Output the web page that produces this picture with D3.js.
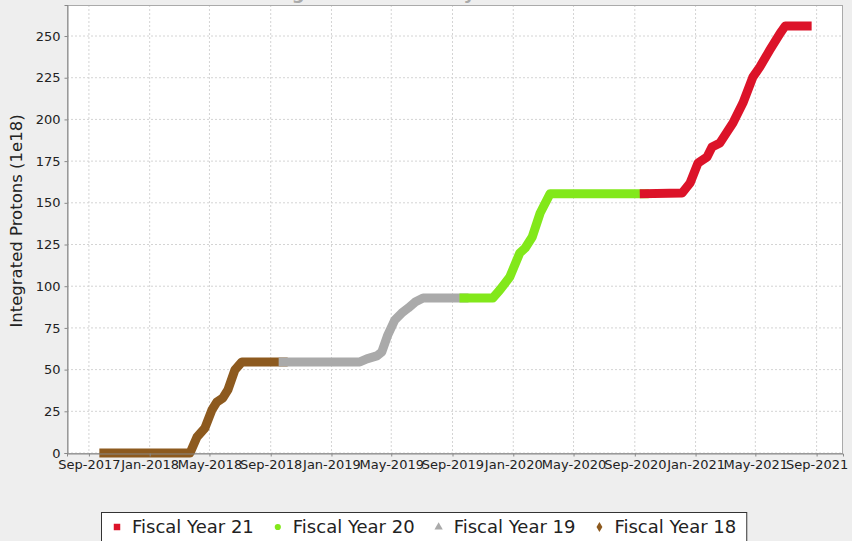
<!DOCTYPE html>
<html>
<head>
<meta charset="utf-8">
<script src="https://cdn.jsdelivr.net/npm/d3@7"></script>
<style>
  body { margin: 0; background: #eeeeee; }
  svg text { font-family: "DejaVu Sans", sans-serif; }
</style>
</head>
<body>
<svg id="chart" width="852" height="541"></svg>
<script>
// values: [date, integrated protons (1e18)]
var fy18 = [
  ['2017-10-01', 0], ['2018-03-23', 0], ['2018-04-06', 9.6], ['2018-04-22', 15],
  ['2018-05-06', 25.8], ['2018-05-16', 30.6], ['2018-05-28', 33], ['2018-06-07', 37.8],
  ['2018-06-21', 49.8], ['2018-07-05', 54.6], ['2018-09-26', 54.6]
];
var fy19 = [
  ['2018-09-26', 54.6], ['2019-02-27', 54.6], ['2019-03-13', 56.4], ['2019-04-02', 58.2],
  ['2019-04-12', 60.6], ['2019-04-24', 70.7], ['2019-05-08', 79.7], ['2019-05-22', 83.9],
  ['2019-06-04', 86.9], ['2019-06-18', 90.5], ['2019-07-04', 92.9], ['2019-09-24', 92.9]
];
var fy20 = [
  ['2019-09-24', 92.9], ['2019-11-21', 92.9], ['2019-12-05', 97.7], ['2019-12-25', 105.5],
  ['2020-01-14', 119.9], ['2020-01-25', 122.9], ['2020-02-08', 129.5], ['2020-02-24', 143.9],
  ['2020-03-15', 155.5], ['2020-09-20', 155.5]
];
var fy21 = [
  ['2020-09-20', 155.5], ['2020-12-05', 155.9], ['2020-12-21', 161.9], ['2021-01-06', 173.9],
  ['2021-01-24', 177.5], ['2021-02-03', 183.5], ['2021-02-19', 185.9], ['2021-03-05', 192.4],
  ['2021-03-17', 197.8], ['2021-04-06', 209.8], ['2021-04-26', 225.4], ['2021-05-10', 231.4],
  ['2021-05-30', 241.6], ['2021-06-20', 251.8], ['2021-06-30', 256], ['2021-08-13', 256]
];

var seriesNames = ['Fiscal Year 21', 'Fiscal Year 20', 'Fiscal Year 19', 'Fiscal Year 18'];
var seriesData = [fy21, fy20, fy19, fy18];
var seriesColors = ['#dc1329', '#82e81a', '#aaaaaa', '#8d5a1f'];
var seriesSymbols = [d3.symbolSquare, d3.symbolCircle, d3.symbolTriangle, d3.symbolDiamond];

var yTicks = [0, 25, 50, 75, 100, 125, 150, 175, 200, 225, 250];
var xTicks = ['2017-09-01', '2018-01-01', '2018-05-01', '2018-09-01', '2019-01-01',
  '2019-05-01', '2019-09-01', '2020-01-01', '2020-05-01', '2020-09-01',
  '2021-01-01', '2021-05-01', '2021-09-01'];
var xDomain = ['2017-07-19', '2021-10-24'];
var yDomain = [0, 268.6];

var title = 'Integrated Protons by Fiscal Year';
var yLabel = 'Integrated Protons (1e18)';

var
  parse = d3.timeParse('%Y-%m-%d'),
  plot = {left: 67, right: 843, top: 5, bottom: 453},
  svg = d3.select('#chart'),
  xScale = d3.scaleTime()
    .domain(xDomain.map(parse))
    .range([plot.left, plot.right]),
  yScale = d3.scaleLinear()
    .domain(yDomain)
    .range([plot.bottom, plot.top])
  ;

// title sits mostly above the visible area in the reference
svg.append('text')
  .attr('x', 421)
  .attr('y', -1)
  .attr('text-anchor', 'middle')
  .attr('font-size', 18)
  .attr('font-weight', 'bold')
  .attr('fill', '#aaa')
  .text(title);

svg.append('rect')
  .attr('x', plot.left)
  .attr('y', plot.top)
  .attr('width', plot.right - plot.left)
  .attr('height', plot.bottom - plot.top)
  .attr('fill', '#ffffff');

var grid = svg.append('g').attr('class', 'grid');

grid.selectAll('.gx')
  .data(xTicks.map(parse))
  .enter().append('line')
  .attr('x1', function(d){ return xScale(d); })
  .attr('x2', function(d){ return xScale(d); })
  .attr('y1', plot.top)
  .attr('y2', plot.bottom)
  .attr('stroke', '#d4d4d4')
  .attr('stroke-dasharray', '2,2');

grid.selectAll('.gy')
  .data(yTicks)
  .enter().append('line')
  .attr('x1', plot.left)
  .attr('x2', plot.right)
  .attr('y1', function(d){ return yScale(d); })
  .attr('y2', function(d){ return yScale(d); })
  .attr('stroke', '#d4d4d4')
  .attr('stroke-dasharray', '2,2');

svg.append('rect')
  .attr('x', plot.left + 0.5)
  .attr('y', plot.top + 0.5)
  .attr('width', plot.right - plot.left - 1)
  .attr('height', plot.bottom - plot.top)
  .attr('fill', 'none')
  .attr('stroke', '#aaaaaa');

var line = d3.line()
  .x(function(d){ return xScale(parse(d[0])); })
  .y(function(d){ return yScale(d[1]); });

// oldest year first so later years sit on top
svg.append('g')
  .selectAll('path')
  .data(seriesData.slice().reverse())
  .enter().append('path')
  .attr('d', line)
  .attr('fill', 'none')
  .attr('stroke', function(d){ return seriesColors[seriesData.indexOf(d)]; })
  .attr('stroke-width', 9)
  .attr('stroke-linejoin', 'round')
  .attr('stroke-linecap', 'square');

var xAxis = svg.append('g')
  .attr('transform', 'translate(0,' + (plot.bottom + 0.5) + ')')
  .call(d3.axisBottom(xScale)
    .tickValues(xTicks.map(parse))
    .tickFormat(d3.timeFormat('%b-%Y'))
    .tickSize(3)
    .tickPadding(3));

var yAxis = svg.append('g')
  .attr('transform', 'translate(' + (plot.left + 0.5) + ',0)')
  .call(d3.axisLeft(yScale)
    .tickValues(yTicks)
    .tickSize(3)
    .tickPadding(4));

[xAxis, yAxis].forEach(function(ax){
  ax.select('.domain').attr('stroke', '#888888');
  ax.selectAll('.tick line').attr('stroke', '#888888');
  ax.selectAll('.tick text')
    .attr('font-size', 13)
    .attr('font-family', '"DejaVu Sans", sans-serif')
    .attr('fill', '#222');
});

svg.append('text')
  .attr('transform', 'translate(22,' + 221 + ') rotate(-90)')
  .attr('text-anchor', 'middle')
  .attr('font-size', 16.5)
  .attr('fill', '#222')
  .text(yLabel);

// legend
var legend = svg.append('g').attr('class', 'legend');
var box = legend.append('rect')
  .attr('y', 512.5)
  .attr('height', 34)
  .attr('fill', '#ffffff')
  .attr('stroke', '#333333');

var cursor = 117;
seriesNames.forEach(function(name, i){
  legend.append('path')
    .attr('transform', 'translate(' + cursor + ',' + 527 + ')')
    .attr('d', d3.symbol().type(seriesSymbols[i]).size(i === 0 ? 42 : 30)())
    .attr('fill', seriesColors[i]);
  var t = legend.append('text')
    .attr('x', cursor + 15)
    .attr('y', 533)
    .attr('font-size', 18)
    .attr('fill', '#222')
    .text(name);
  cursor = cursor + 15 + t.node().getComputedTextLength() + 24;
});
box
  .attr('x', 101.5)
  .attr('width', cursor - 24 + 10 - 101);
</script>
</body>
</html>
